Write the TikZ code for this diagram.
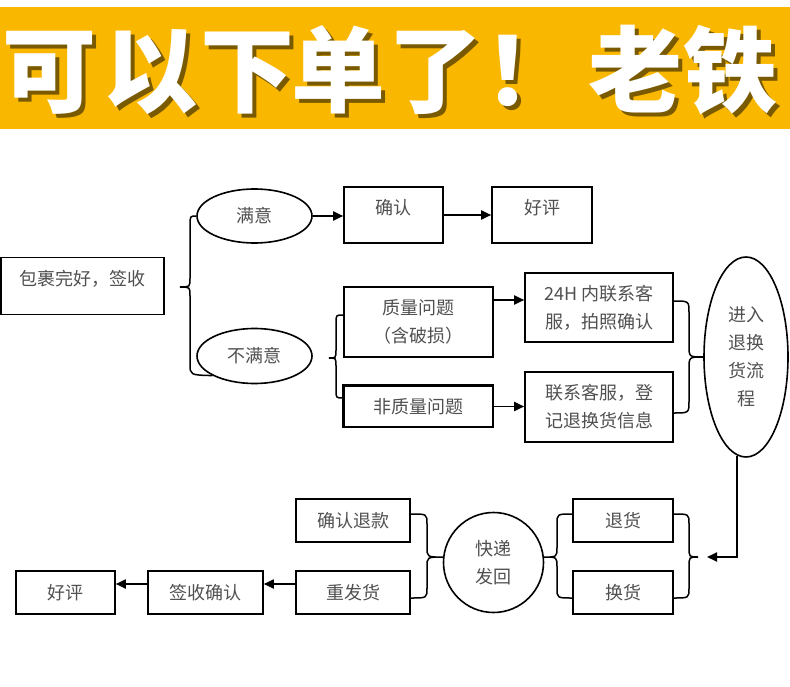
\documentclass[tikz,border=0pt]{standalone}
\usepackage{fontspec}
\newfontfamily\cjk{Noto Sans CJK SC}
\usetikzlibrary{arrows.meta,shapes.geometric}
\definecolor{bannerorange}{HTML}{FAB700}
\definecolor{txtgray}{HTML}{505050}
\tikzset{
  lbl/.style={text=txtgray, font=\cjk\fontsize{18}{28}\selectfont, align=center, inner sep=0pt},
  box/.style={lbl, draw, line width=1.6pt, rectangle},
  oval/.style={lbl, draw, line width=1.6pt, ellipse},
  rnd/.style={lbl, draw, line width=1.6pt, circle},
  arr/.style={line width=1.8pt, -{Triangle[length=10pt,width=9pt]}},
  brc/.style={line width=1.5pt},
  bchar/.style={anchor=base, text=white, font=\cjk\bfseries\fontsize{94}{94}\selectfont, inner sep=0pt},
  bshade/.style={bchar, text=black!85!bannerorange, opacity=0.6},
}
\begin{document}
\begin{tikzpicture}[x=1pt,y=-1pt]
\useasboundingbox (0,0) rectangle (790,687);
\fill[white] (0,0) rectangle (790,687);
% banner
\fill[bannerorange] (0,7) rectangle (790,129);
\foreach \c/\x [count=\i] in {可/49,以/150,下/247,单/338,了/435,！/531,老/635,铁/730}{
  \node[bshade] (sh\i) at (\x+4,110) {\c};
  \node[bchar] (ch\i) at (\x,106) {\c};
}
% nodes
\node[box, minimum width=163pt, minimum height=57pt, text depth=16pt] (pkg) at (82.5,286) {包裹完好，签收};
\node[oval, minimum width=115pt, minimum height=54pt] (sat) at (254.5,216) {满意};
\node[oval, minimum width=115pt, minimum height=55pt] (unsat) at (254.5,356) {不满意};
\node[box, minimum width=99pt, minimum height=56pt, text depth=16pt] (conf) at (393.5,215) {确认};
\node[box, minimum width=100pt, minimum height=56pt, text depth=16pt] (good1) at (542,215) {好评};
\node[box, minimum width=149pt, minimum height=70pt] (qual) at (418.5,322) {质量问题\\（含破损）};
\node[box, minimum width=149pt, minimum height=41pt] (nonq) at (418.5,406.5) {非质量问题};
\draw[line width=3pt] (nonq.south west) -- (nonq.north west) -- (nonq.north east);
\node[box, minimum width=148pt, minimum height=69pt] (h24) at (599,307.5) {24H 内联系客\\服，拍照确认};
\node[box, minimum width=148pt, minimum height=70pt] (reg) at (599,407) {联系客服，登\\记退换货信息};
\node[oval, minimum width=84pt, minimum height=200pt] (proc) at (746,357) {进入\\退换\\货流\\程};
\node[box, minimum width=100pt, minimum height=43pt] (ret) at (623,520.5) {退货};
\node[box, minimum width=100pt, minimum height=43pt] (exch) at (623,592.5) {换货};
\node[rnd, minimum size=100pt] (exp) at (493.5,562.5) {快递\\发回};
\node[box, minimum width=114pt, minimum height=43pt] (refund) at (353,520.5) {确认退款};
\node[box, minimum width=114pt, minimum height=43pt] (resend) at (353,592.5) {重发货};
\node[box, minimum width=115pt, minimum height=43pt] (sign) at (205.5,592.5) {签收确认};
\node[box, minimum width=99pt, minimum height=43pt] (good2) at (65.5,592.5) {好评};
% arrows
\draw[arr] (sat.east) -- (sat.east -| conf.west);
\draw[arr] (conf.east) -- (good1.west);
\coordinate (qa) at ([yshift=22pt]qual.east);
\draw[arr] (qa) -- (qa -| h24.west);
\draw[arr] (nonq.east) -- (nonq.east -| reg.west);
\coordinate (tipD) at (707,557);
\draw[arr] (proc.265) |- (tipD);
\coordinate (ra) at ([yshift=8.5pt]resend.west);
\draw[arr] (ra) -- (ra -| sign.east);
\coordinate (sa) at ([yshift=8.5pt]sign.west);
\draw[arr] (sa) -- (sa -| good2.east);
% braces
\draw[brc] (sat.west) .. controls (190,216) .. (190,226) -- (190,278) .. controls (190,287) .. (180,287) .. controls (190,287) .. (190,296) -- (190,364) .. controls (190,375) .. (unsat.205);
\coordinate (qb) at ([yshift=7pt]qual.west);
\coordinate (nb) at ([yshift=8.5pt]nonq.west);
\draw[brc] (qb) .. controls (336,315) .. (336,323) -- (336,350) .. controls (336,358) .. (329,358) .. controls (336,358) .. (336,366) -- (336,390) .. controls (336,398) .. (nb);
\coordinate (hc) at ([yshift=6.5pt]h24.east);
\coordinate (rc) at ([yshift=-6pt]reg.east);
\draw[brc] (hc) .. controls (689,301) .. (689,313) -- (689,345) .. controls (689,357) .. (proc.west) .. controls (689,357) .. (689,369) -- (689,401) .. controls (689,413) .. (rc);
\coordinate (rd) at ([yshift=6.5pt]ret.east);
\coordinate (ed) at ([yshift=-5.5pt]exch.east);
\draw[brc] (rd) .. controls (689,514) .. (689,524) -- (689,547) .. controls (689,557) .. (698,557) .. controls (689,557) .. (689,567) -- (689,588) .. controls (689,598) .. (ed);
\coordinate (re) at ([yshift=6.5pt]ret.west);
\coordinate (ee) at ([yshift=-5.5pt]exch.west);
\draw[brc] (re) .. controls (557,514) .. (557,524) -- (557,547) .. controls (557,557) .. (exp.6) .. controls (557,557) .. (557,567) -- (557,588) .. controls (557,598) .. (ee);
\coordinate (rf) at ([yshift=6.5pt]refund.east);
\coordinate (sf) at ([yshift=-5.5pt]resend.east);
\draw[brc] (rf) .. controls (427,514) .. (427,524) -- (427,547) .. controls (427,557) .. (exp.174) .. controls (427,557) .. (427,567) -- (427,588) .. controls (427,598) .. (sf);
\end{tikzpicture}
\end{document}
